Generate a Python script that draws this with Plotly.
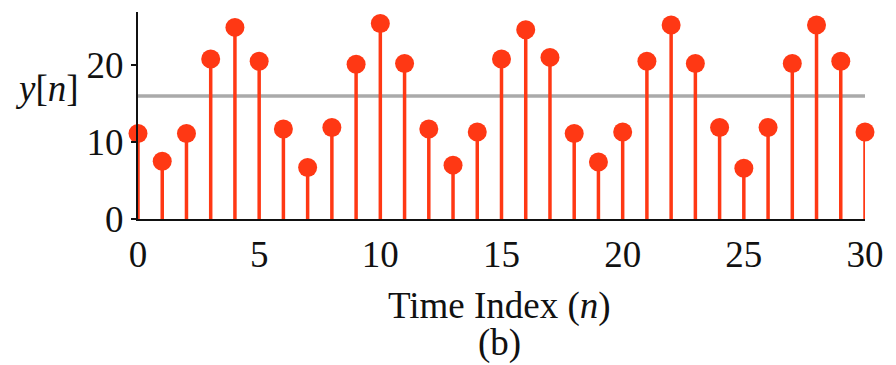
import plotly.graph_objects as go

n_values = list(range(31))
y_values = [11.1, 7.5, 11.1, 20.8, 24.9, 20.5, 11.7, 6.7, 11.9, 20.1, 25.4,
            20.2, 11.7, 7.0, 11.3, 20.8, 24.6, 21.0, 11.1, 7.4, 11.3, 20.5,
            25.2, 20.2, 11.9, 6.6, 11.9, 20.2, 25.2, 20.5, 11.3]
mean_level = 16.0
x_ticks = [0, 5, 10, 15, 20, 25, 30]
y_ticks = [0, 10, 20]

RED = "#FF3814"
FONT = "Liberation Serif"
FS = 37

stem_x, stem_y = [], []
for n, v in zip(n_values, y_values):
    stem_x += [n, n, None]
    stem_y += [0, v, None]

fig = go.Figure()
fig.add_trace(go.Scatter(x=[n_values[0], n_values[-1]], y=[mean_level, mean_level],
                         mode="lines", line=dict(color="#AAAAAA", width=3.5),
                         hoverinfo="skip", cliponaxis=False))
fig.add_trace(go.Scatter(x=stem_x, y=stem_y, mode="lines",
                         line=dict(color=RED, width=3.5), cliponaxis=False))
fig.add_trace(go.Scatter(x=n_values, y=y_values, mode="markers",
                         marker=dict(color=RED, size=19, line=dict(width=0)),
                         cliponaxis=False))

fig.update_layout(
    width=896, height=365,
    margin=dict(l=138, r=31, t=12, b=146),
    paper_bgcolor="white", plot_bgcolor="white",
    showlegend=False,
    font=dict(family=FONT, size=FS, color="#111111"),
    xaxis=dict(range=[0, 30], tickvals=x_ticks, showgrid=False, zeroline=False,
               showline=True, linecolor="#111111", linewidth=2, ticks="",
               ticklabelstandoff=2),
    yaxis=dict(range=[0, 26.9], tickvals=y_ticks, showgrid=False, zeroline=False,
               showline=True, linecolor="#111111", linewidth=2, ticks="outside",
               ticklen=5, tickwidth=2, tickcolor="#111111", ticklabelstandoff=0),
    annotations=[
        dict(text="<i>y</i>[<i>n</i>]", xref="paper", yref="paper", x=-0.125, y=0.630,
             showarrow=False, xanchor="center", yanchor="middle", font=dict(size=FS)),
        dict(text="Time Index (<i>n</i>)", xref="paper", yref="paper", x=0.497, y=-0.420,
             showarrow=False, xanchor="center", yanchor="middle", font=dict(size=FS)),
        dict(text="(b)", xref="paper", yref="paper", x=0.497, y=-0.599,
             showarrow=False, xanchor="center", yanchor="middle", font=dict(size=FS)),
    ],
)

fig.write_html("out.html")
